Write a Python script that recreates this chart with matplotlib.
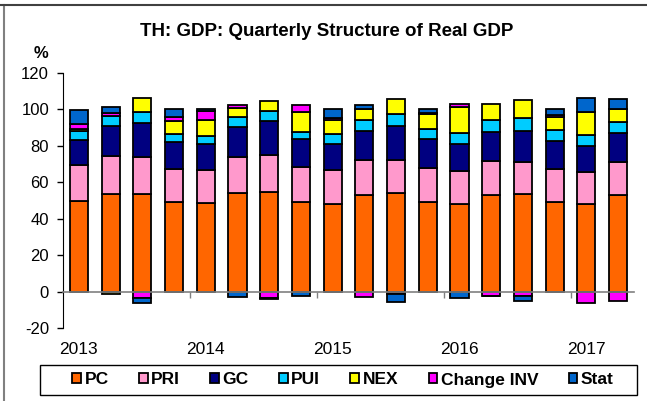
import matplotlib
matplotlib.use("Agg")

import matplotlib.pyplot as plt
from matplotlib.lines import Line2D
from matplotlib.patches import Rectangle
import matplotlib.transforms as mtransforms
import numpy as np

plt.rcParams["font.family"] = ["Liberation Sans", "DejaVu Sans"]
plt.rcParams["axes.unicode_minus"] = False

# ---------------------------------------------------------------------------
# Data (% of real GDP), 2013Q1 .. 2017Q2
# ---------------------------------------------------------------------------
quarters = ["2013Q1", "2013Q2", "2013Q3", "2013Q4",
            "2014Q1", "2014Q2", "2014Q3", "2014Q4",
            "2015Q1", "2015Q2", "2015Q3", "2015Q4",
            "2016Q1", "2016Q2", "2016Q3", "2016Q4",
            "2017Q1", "2017Q2"]

pc = [50.0, 53.8, 53.8, 49.4, 48.6, 53.9, 54.7, 49.2, 48.3,
      53.2, 53.9, 49.2, 48.3, 53.2, 53.8, 49.2, 48.1, 53.0]
pri = [19.5, 20.6, 20.2, 18.1, 17.9, 20.1, 20.5, 19.0, 18.2,
       18.8, 18.1, 18.8, 17.8, 18.4, 17.6, 18.2, 17.4, 18.1]
gc = [13.5, 16.4, 18.7, 14.4, 14.5, 16.3, 18.7, 15.3, 14.3,
      16.4, 18.7, 15.5, 15.1, 16.2, 16.7, 15.4, 14.3, 15.9]
pui = [5.3, 5.7, 5.8, 4.4, 4.2, 5.5, 5.4, 3.9, 5.5,
       5.9, 6.9, 5.7, 6.0, 6.2, 7.3, 5.8, 6.3, 6.1]
nex = [1.0, -1.5, 7.7, 7.5, 8.8, 5.1, 5.1, 11.0, 7.7,
       6.1, 8.3, 8.4, 14.3, 8.9, 9.9, 7.2, 12.6, 7.3]
change_inv = [2.7, 1.5, -3.8, 2.2, 4.9, 1.8, -3.3, 3.8, 1.5,
              -2.9, -1.5, 0.5, 1.4, -2.2, -2.5, 1.2, -6.2, -5.3]
stat = [7.9, 3.2, -2.4, 4.0, 1.1, -2.9, -0.8, -2.5, 4.5,
        1.8, -4.3, 1.9, -3.3, -0.5, -2.9, 3.0, 7.5, 5.1]

series_names = ["PC", "PRI", "GC", "PUI", "NEX", "Change INV", "Stat"]
year_labels = ["2013", "2014", "2015", "2016", "2017"]

# ---------------------------------------------------------------------------
# Style
# ---------------------------------------------------------------------------
colors = ["#FF6600", "#FF99CC", "#000080", "#00CCFF", "#FFFF00",
          "#FF00FF", "#0066CC"]

fig = plt.figure(figsize=(6.47, 4.01), dpi=100)
ax = fig.add_axes([63 / 647, 1 - 328 / 401, 571 / 647, 255 / 401])

x = np.arange(len(quarters))
pos_bottom = np.zeros(len(quarters))
neg_bottom = np.zeros(len(quarters))
handles = []
for name, vals, col in zip(series_names,
                           [pc, pri, gc, pui, nex, change_inv, stat], colors):
    v = np.array(vals)
    bottom = np.where(v >= 0, pos_bottom, neg_bottom)
    bars = ax.bar(x, v, width=0.57, bottom=bottom, color=col,
                  edgecolor="black", linewidth=1.3, label=name, zorder=3)
    handles.append(bars)
    pos_bottom += np.where(v >= 0, v, 0)
    neg_bottom += np.where(v < 0, v, 0)

ax.set_xlim(-0.5, len(quarters) - 0.5)
ax.set_ylim(-20, 120)
ax.set_yticks(range(-20, 121, 20))
ax.tick_params(axis="y", length=4, width=1, pad=6, labelsize=12)

# zero line acts as category axis, ticks at year boundaries
ax.spines["top"].set_visible(False)
ax.spines["right"].set_visible(False)
ax.spines["bottom"].set_position(("data", 0))
ax.spines["bottom"].set_color("#808080")
ax.spines["bottom"].set_linewidth(1.2)
ax.spines["bottom"].set_zorder(4)
ax.set_xticks([3.5, 7.5, 11.5, 15.5])
ax.set_xticklabels([])
ax.tick_params(axis="x", length=4, width=1, direction="out", colors="#808080")

trans = mtransforms.blended_transform_factory(ax.transData, ax.transAxes)
for i, yl in enumerate(year_labels):
    ax.text(i * 4, -0.086, yl, transform=trans, ha="center", va="center",
            fontsize=12.5)

# title and unit
fig.text(327 / 647, 1 - 32 / 401, "TH: GDP: Quarterly Structure of Real GDP",
         ha="center", va="center", fontsize=13.5, weight="bold")
fig.text(41 / 647, 1 - 53 / 401, "%", ha="center", va="center",
         fontsize=12, weight="bold")

# legend strip: frame drawn separately, entries centred inside it
fig.add_artist(Rectangle((40 / 647, 1 - 395 / 401), 597 / 647, 30 / 401,
                         transform=fig.transFigure, fill=False,
                         edgecolor="black", lw=1.0))
fig.legend(handles=handles, labels=series_names, ncol=7,
           loc="center", bbox_to_anchor=(343 / 647, 1 - 380 / 401),
           frameon=False, handlelength=0.5, handleheight=0.5,
           handletextpad=0.2, columnspacing=1.75, borderpad=0.0,
           prop={"weight": "bold", "size": 12.5})

# outer chart frame
fig.add_artist(Line2D([4 / 647, 4 / 647], [0, 1 - 5 / 401],
                      transform=fig.transFigure, color="#808080", lw=1.5))
fig.add_artist(Line2D([0, 1], [1 - 5 / 401, 1 - 5 / 401],
                      transform=fig.transFigure, color="#404040", lw=1.5))

fig.savefig("out.png", dpi=100, facecolor="white")
plt.close(fig)
